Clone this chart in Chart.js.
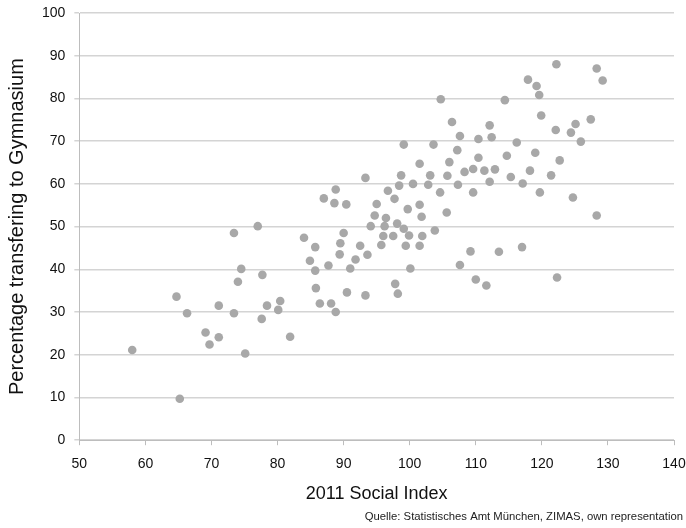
<!DOCTYPE html>
<html>
<head>
<meta charset="utf-8">
<script src="https://cdn.jsdelivr.net/npm/chart.js@4"></script>
<style>
html,body{margin:0;padding:0;background:#fff;}
#wrap{width:686px;height:528px;position:relative;}
</style>
</head>
<body>
<div id="wrap"><canvas id="c"></canvas></div>
<script>
const socialIndex = [58.0,64.7,66.3,65.2,69.1,69.7,71.1,71.1,73.4,74.5,74.0,73.4,75.1,77.0,77.7,77.6,78.4,
80.4,80.1,81.9,84.0,85.7,84.9,85.7,85.8,86.4,87.0,87.7,88.1,88.8,88.8,88.6,90.4,90.0,89.5,89.4,90.5,91.0,91.8,92.5,93.3,93.6,93.3,
94.1,94.7,95.0,95.7,96.0,96.2,96.4,96.7,97.5,97.7,97.8,98.2,98.1,98.4,98.7,99.1,99.1,99.4,99.7,99.9,100.1,100.5,
101.5,101.5,101.8,101.5,101.9,102.8,103.1,103.6,103.8,104.6,104.7,105.6,105.7,106.0,106.4,107.2,107.3,107.6,107.6,108.3,109.2,109.6,
109.6,110.4,110.4,111.3,112.1,112.4,112.1,112.9,110.0,111.6,113.5,114.4,114.7,115.3,116.2,117.0,117.1,117.9,118.2,119.0,119.2,119.6,119.9,119.7,
121.4,122.1,122.2,122.7,122.3,124.4,125.1,124.7,125.9,127.4,128.3,129.2,128.3];
const gymnasiumShare = [21.1,33.6,29.7,9.7,25.2,22.4,31.5,24.1,48.5,40.1,37.1,29.7,20.3,50.1,38.7,28.4,31.5,
32.6,30.5,24.2,47.4,45.2,42.0,39.7,35.6,32.0,56.6,40.9,32.0,30.0,58.7,55.5,55.2,48.5,46.1,43.5,34.6,40.2,42.3,45.5,61.4,43.4,33.9,
50.1,52.6,55.3,45.7,47.8,50.1,52.0,58.4,47.8,56.5,36.6,34.3,50.7,59.6,62.0,69.2,49.5,45.5,54.1,47.9,40.2,60.0,
64.7,55.1,52.3,45.5,47.8,59.8,62.0,69.2,49.1,58.0,79.8,53.3,61.9,65.1,74.5,67.9,59.8,71.2,41.0,62.8,44.2,58.0,
63.5,70.5,66.1,63.1,73.7,70.9,60.5,63.4,37.6,36.2,44.1,79.6,66.6,61.6,69.7,45.2,60.1,84.4,63.1,67.3,82.9,80.8,76.0,58.0,
62.0,72.6,88.0,65.5,38.1,72.0,74.0,56.8,69.9,75.1,87.0,84.2,52.6];
const xTicks = [50,60,70,80,90,100,110,120,130,140];
const yTicks = [0,10,20,30,40,50,60,70,80,90,100];

const points = socialIndex.map((x,i)=>({x:x,y:gymnasiumShare[i]}));
const font = 'Liberation Sans, Arial, sans-serif';

new Chart(document.getElementById('c'), {
  type: 'scatter',
  data: { datasets: [{ data: points, backgroundColor: '#a8a8a8', borderColor: '#a8a8a8', pointRadius: 4.3, pointHoverRadius: 4.3, borderWidth: 0 }] },
  options: {
    responsive: true, maintainAspectRatio: false, animation: false,
    layout: { padding: { top: 3, right: 3, left: 3, bottom: 2 } },
    plugins: {
      legend: { display: false }, tooltip: { enabled: false },
      title: { display: true, position: 'bottom', align: 'end', text: 'Quelle: Statistisches Amt München, ZIMAS, own representation',
        color: '#222', font: { family: font, size: 11.3, weight: 'normal' }, padding: { top: 7, bottom: 2 } }
    },
    scales: {
      x: {
        type: 'linear', min: 50, max: 140,
        afterBuildTicks: a => { a.ticks = xTicks.map(v=>({value:v})); },
        afterFit: s => { s.paddingRight = 12; s.paddingLeft = 0; },
        ticks: { color: '#111', font: { family: font, size: 14 }, padding: 11 },
        grid: { drawOnChartArea: false, drawTicks: true, tickLength: 5, color: '#bdbdbd' },
        border: { color: '#bdbdbd' },
        title: { display: true, text: '2011 Social Index', color: '#111', font: { family: font, size: 18, lineHeight: 1.08 }, padding: { top: 0, bottom: 0 } }
      },
      y: {
        min: 0, max: 100,
        afterBuildTicks: a => { a.ticks = yTicks.map(v=>({value:v})); },
        afterFit: s => { s.paddingTop = 13; s.paddingBottom = 0; },
        ticks: { color: '#111', font: { family: font, size: 14 }, padding: 9 },
        grid: { color: '#d4d4d4', lineWidth: 1.5, drawTicks: true, tickLength: 5 },
        border: { color: '#bdbdbd' },
        title: { display: true, text: 'Percentage transfering to Gymnasium', color: '#111', font: { family: font, size: 20 }, padding: { top: 2, bottom: 4 } }
      }
    }
  }
});
</script>
</body>
</html>
